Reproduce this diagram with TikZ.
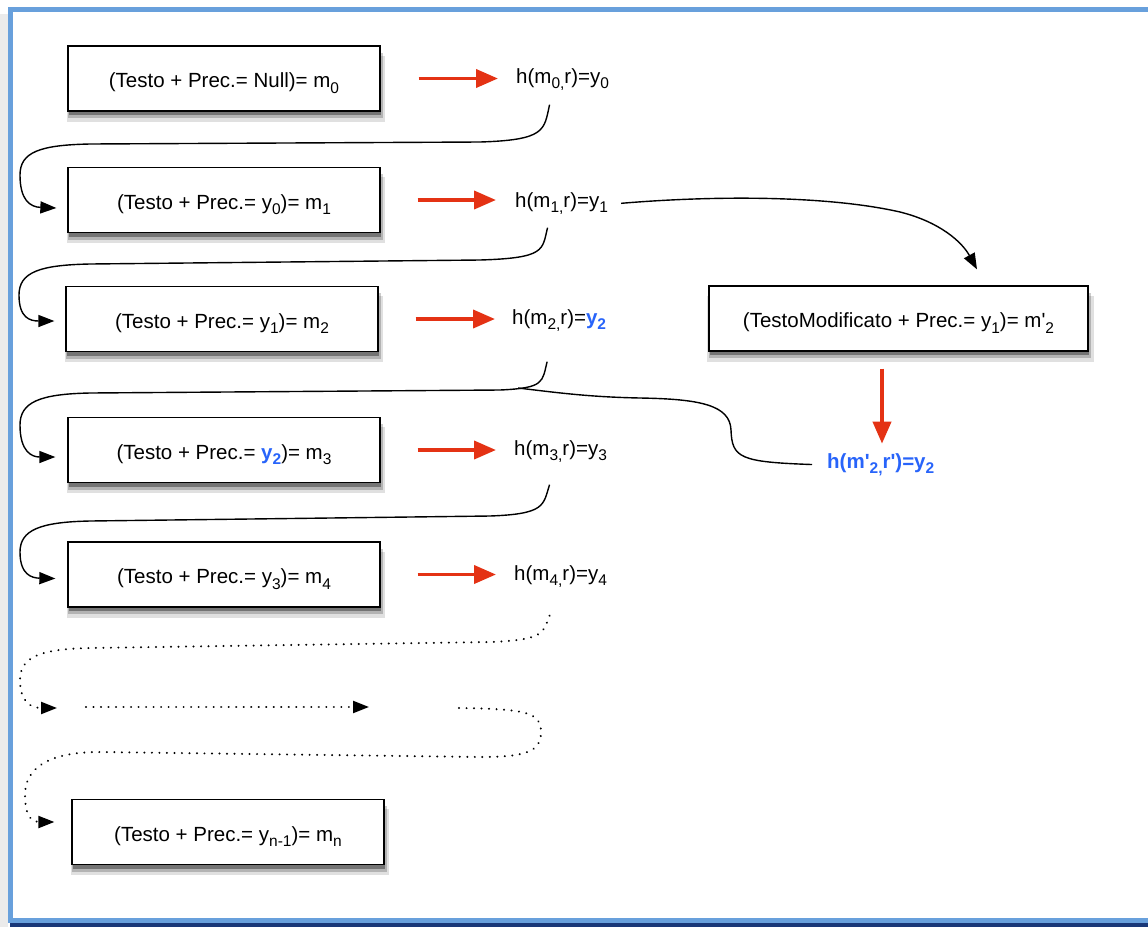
\documentclass[tikz,border=0pt]{standalone}
\usepackage{fontspec}
\setmainfont{Liberation Sans}[Ligatures=TeXOff]
\usetikzlibrary{arrows.meta,shadows}
\definecolor{frameblue}{RGB}{104,160,220}
\definecolor{framenavy}{RGB}{25,55,120}
\definecolor{hred}{RGB}{228,50,20}
\definecolor{hblue}{RGB}{40,100,250}
\newcommand\sbs[1]{\raisebox{-5.5pt}{\fontsize{15.5}{15.5}\selectfont #1}}
\begin{document}
\begin{tikzpicture}[x=1pt,y=-1pt,
  box/.style={draw=black, line width=1.3pt, fill=white, minimum width=312pt, minimum height=65pt,
    inner sep=0pt, text height=18pt, text depth=0pt,
    general shadow={shadow xshift=2pt, shadow yshift=-10pt, shadow scale=1.02, opacity=0.12, fill=black},
    general shadow={shadow xshift=1.5pt, shadow yshift=-7pt, shadow scale=1.01, opacity=0.2, fill=black},
    general shadow={shadow xshift=1pt, shadow yshift=-4pt, opacity=0.35, fill=black},
    font=\fontsize{20.5}{24}\selectfont},
  hlab/.style={anchor=base west, inner sep=0pt, font=\fontsize{20.5}{24}\selectfont},
  redarr/.style={draw=hred, line width=3.8pt, -{Triangle[length=22pt,width=18pt]}},
  link/.style={draw=black, line width=1.4pt, -{Triangle[length=16pt,width=12pt]}},
  plain/.style={draw=black, line width=1.4pt},
  dotl/.style={draw=black, line width=2.2pt, line cap=round, dash pattern=on 0.01pt off 7.5pt}
]
\useasboundingbox (0,0) rectangle (1148,927);
\begin{scope}
\clip (0,0) rectangle (1148,927);
\fill[white] (0,0) rectangle (1148,927);
\fill[black!8] (0,14) rectangle (8,927);
\fill[framenavy] (10,922) rectangle (1150,927);
\draw[frameblue, line width=5pt] (10,9.5) rectangle (1150,920.5);
\end{scope}

% boxes
\node[box] (b0) at (224,78.5) {(Testo + Prec.= Null)= m\sbs{0}};
\node[box] (b1) at (224,200) {(Testo + Prec.= y\sbs{0})= m\sbs{1}};
\node[box] (b2) at (222,319) {(Testo + Prec.= y\sbs{1})= m\sbs{2}};
\node[box] (b3) at (224,450) {(Testo + Prec.= \textcolor{hblue}{\bfseries y\sbs{2}})= m\sbs{3}};
\node[box] (b4) at (224,574.5) {(Testo + Prec.= y\sbs{3})= m\sbs{4}};
\node[box] (bn) at (228,832) {(Testo + Prec.= y\sbs{n-1})= m\sbs{n}};
\node[box, minimum width=379pt] (bm) at (898.5,318.5) {(TestoModificato + Prec.= y\sbs{1})= m'\sbs{2}};

% hash labels
\node[hlab] (h0) at (516,83) {h(m\sbs{0,}r)=y\sbs{0}};
\node[hlab] (h1) at (515,207) {h(m\sbs{1,}r)=y\sbs{1}};
\node[hlab] (h2) at (512,324) {h(m\sbs{2,}r)=\textcolor{hblue}{\bfseries y\sbs{2}}};
\node[hlab] (h3) at (514,455) {h(m\sbs{3,}r)=y\sbs{3}};
\node[hlab] (h4) at (514,580) {h(m\sbs{4,}r)=y\sbs{4}};
\node[hlab, text=hblue, font=\fontsize{20.5}{24}\selectfont\bfseries] (hm) at (827,468) {h(m'\sbs{2,}r')=y\sbs{2}};

% red arrows
\draw[redarr, shorten <=38pt, shorten >=18pt] (b0.east) -- (b0.east -| h0.west);
\draw[redarr, shorten <=37pt, shorten >=19pt] (b1.east) -- (b1.east -| h1.west);
\draw[redarr, shorten <=37pt, shorten >=17pt] (b2.east) -- (b2.east -| h2.west);
\draw[redarr, shorten <=37pt, shorten >=18pt] (b3.east) -- (b3.east -| h3.west);
\draw[redarr, shorten <=37pt, shorten >=18pt] (b4.east) -- (b4.east -| h4.west);
\draw[redarr] ([xshift=-16.5pt,yshift=-17pt]bm.south) -- ([xshift=-16.5pt,yshift=-92pt]bm.south);

% black links
\draw[link] ([xshift=-13pt,yshift=-14pt]h0.south) .. controls (544,130) and (546,140) .. (480,142) -- (90,144)
  .. controls (40,145) and (20,152) .. (20,175) .. controls (20,200) and (30,207) .. ([xshift=-11pt,yshift=-8pt]b1.west);
\draw[link] ([xshift=-14pt,yshift=-13pt]h1.south) .. controls (542,250) and (546,258) .. (480,260) -- (90,264)
  .. controls (40,265) and (19,272) .. (19,295) .. controls (19,318) and (30,321) .. ([xshift=-11pt,yshift=-2pt]b2.west);
\draw[link] ([xshift=-12pt,yshift=-30pt]h2.south) .. controls (542,382) and (545,388) .. (500,390) -- (90,393)
  .. controls (40,394) and (20,402) .. (20,425) .. controls (20,452) and (32,457) .. ([xshift=-12pt,yshift=-7pt]b3.west);
\draw[plain] (518,388) .. controls (560,393) and (590,397) .. (640,398) .. controls (700,399) and (730,405) .. (731,430)
  .. controls (732,458) and (740,462) .. ([xshift=-15pt]hm.west);
\draw[link] ([xshift=-11pt,yshift=-22pt]h3.south) .. controls (543,505) and (546,514) .. (490,516) -- (90,521)
  .. controls (40,522) and (20,530) .. (20,552) .. controls (20,575) and (32,578) .. ([xshift=-12pt,yshift=-4pt]b4.west);
\draw[link] ([xshift=13pt]h1.east) .. controls (720,195) and (830,196) .. (900,212)
  .. controls (940,222) and (962,242) .. ([xshift=78.5pt,yshift=16pt]bm.north);

% dotted continuation
\coordinate (d1) at (57,708);
\coordinate (d2s) at (86,707);
\coordinate (d2e) at (369,707);
\coordinate (d3s) at (459,708);
\draw[dotl, -{Triangle[length=16pt,width=12pt]}] ([xshift=-11pt,yshift=-28pt]h4.south) .. controls (543,632) and (546,640) .. (490,642) -- (90,648)
  .. controls (40,649) and (20,657) .. (20,680) .. controls (20,703) and (32,708) .. (d1);
\draw[dotl, -{Triangle[length=16pt,width=12pt]}] (d2s) -- (d2e);
\draw[dotl, -{Triangle[length=16pt,width=12pt]}] (d3s) .. controls (525,709) and (541,712) .. (541,732)
  .. controls (541,752) and (525,757) .. (480,757) -- (100,752)
  .. controls (45,752) and (25,770) .. (25,795) .. controls (25,818) and (33,822) .. ([xshift=-17pt,yshift=10pt]bn.west);
\end{tikzpicture}
\end{document}
